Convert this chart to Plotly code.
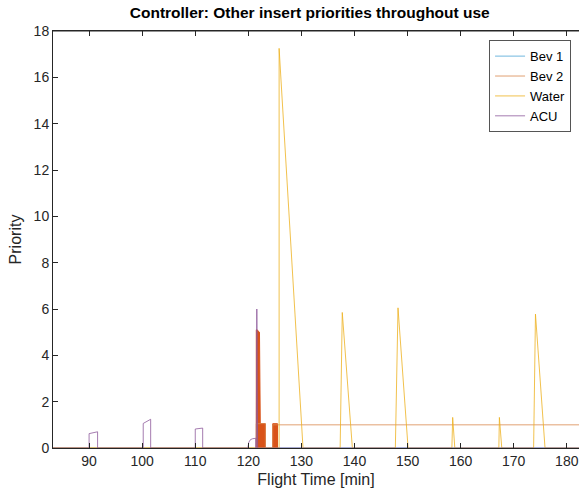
import plotly.graph_objects as go

# ---- data ----
x_start, x_end = 83.2, 182.3

bev1_x = [x_start, x_end]
bev1_y = [0, 0]

bev2_x = [x_start, 121.5, 121.5, 123.2, 123.2, 124.6, 124.6, x_end]
bev2_y = [0, 0, 1.05, 1.05, 0, 0, 1.0, 1.0]

# dense rapid toggling of Bev 2, rendered as solid blocks
bev2_block_x = [121.5, 121.5, 121.65, 122.1, 122.25, 123.2, 123.2, None, 124.6, 124.6, 125.5, 125.5]
bev2_block_y = [0, 5.1, 5.1, 5.0, 1.05, 1.05, 0, None, 0, 1.05, 1.05, 0]

water_x = [x_start, 125.8, 125.8, 130.3, 137.3, 137.7, 139.6, 147.7, 148.2, 150.1,
           158.35, 158.5, 158.9, 167.2, 167.3, 167.75, 173.75, 174.1, 175.9, x_end]
water_y = [0, 0, 17.25, 0, 0, 5.85, 0, 0, 6.05, 0,
           0, 1.32, 0, 0, 1.32, 0, 0, 5.78, 0, 0]

acu_x = [x_start, 90.0, 90.0, 91.6, 91.6, 100.2, 100.2, 101.6, 101.6, 110.0, 110.0, 111.4, 111.4,
         119.9, 120.1, 120.4, 120.8, 121.4, 121.4, 121.5, 121.6, 121.75, x_end]
acu_y = [0, 0, 0.62, 0.7, 0, 0, 1.06, 1.24, 0, 0, 0.82, 0.86, 0,
         0, 0.25, 0.36, 0.4, 0.42, 0, 0, 6.0, 0, 0]

x_ticks = [90, 100, 110, 120, 130, 140, 150, 160, 170, 180]
y_ticks = [0, 2, 4, 6, 8, 10, 12, 14, 16, 18]

c_bev1 = "#4da6d6"
c_bev2 = "#D95319"
c_water = "#EDB120"
c_acu = "#8e5a9c"
lw = 0.8

fig = go.Figure()
fig.add_trace(go.Scatter(x=bev1_x, y=bev1_y, mode="lines", name="Bev 1",
                         line=dict(color=c_bev1, width=lw)))
fig.add_trace(go.Scatter(x=bev2_block_x, y=bev2_block_y, mode="lines", fill="toself",
                         fillcolor=c_bev2, line=dict(color=c_bev2, width=1),
                         showlegend=False, hoverinfo="skip"))
fig.add_trace(go.Scatter(x=bev2_x, y=bev2_y, mode="lines", name="Bev 2",
                         line=dict(color="#d9894f", width=lw)))
fig.add_trace(go.Scatter(x=water_x, y=water_y, mode="lines", name="Water",
                         line=dict(color=c_water, width=lw)))
fig.add_trace(go.Scatter(x=acu_x, y=acu_y, mode="lines", name="ACU",
                         line=dict(color=c_acu, width=lw)))

font = "Liberation Sans, Arial, Helvetica, sans-serif"
axis_color = "#262626"

fig.update_layout(
    width=579, height=491,
    margin=dict(l=53, r=0, t=31, b=43),
    paper_bgcolor="white", plot_bgcolor="white",
    font=dict(family=font, size=14, color=axis_color),
    title=dict(text="<b>Controller: Other insert priorities throughout use</b>",
               x=0.535, xanchor="center", y=0.975, yanchor="middle",
               font=dict(size=15.5, color="black")),
    showlegend=True,
    legend=dict(x=0.829, y=0.978, xanchor="left", yanchor="top",
                bgcolor="white", bordercolor="#555555", borderwidth=1,
                font=dict(size=13, color="black"), tracegroupgap=0,
                itemwidth=30),
    xaxis=dict(range=[x_start, x_end], tickvals=x_ticks, ticks="inside", ticklen=5,
               tickcolor=axis_color, showline=True, linecolor=axis_color, linewidth=1,
               mirror="ticks", showgrid=False, zeroline=False,
               title=dict(text="Flight Time [min]", font=dict(size=16), standoff=6),
               tickfont=dict(size=14)),
    yaxis=dict(range=[0, 18], tickvals=y_ticks, ticks="inside", ticklen=5,
               tickcolor=axis_color, showline=True, linecolor=axis_color, linewidth=1,
               showgrid=False, zeroline=False,
               title=dict(text="Priority", font=dict(size=16), standoff=8),
               tickfont=dict(size=14)),
)
# top border line
fig.add_shape(type="line", xref="paper", yref="paper", x0=0, x1=1, y0=1, y1=1,
              line=dict(color=axis_color, width=1))

fig.write_html("out.html")
